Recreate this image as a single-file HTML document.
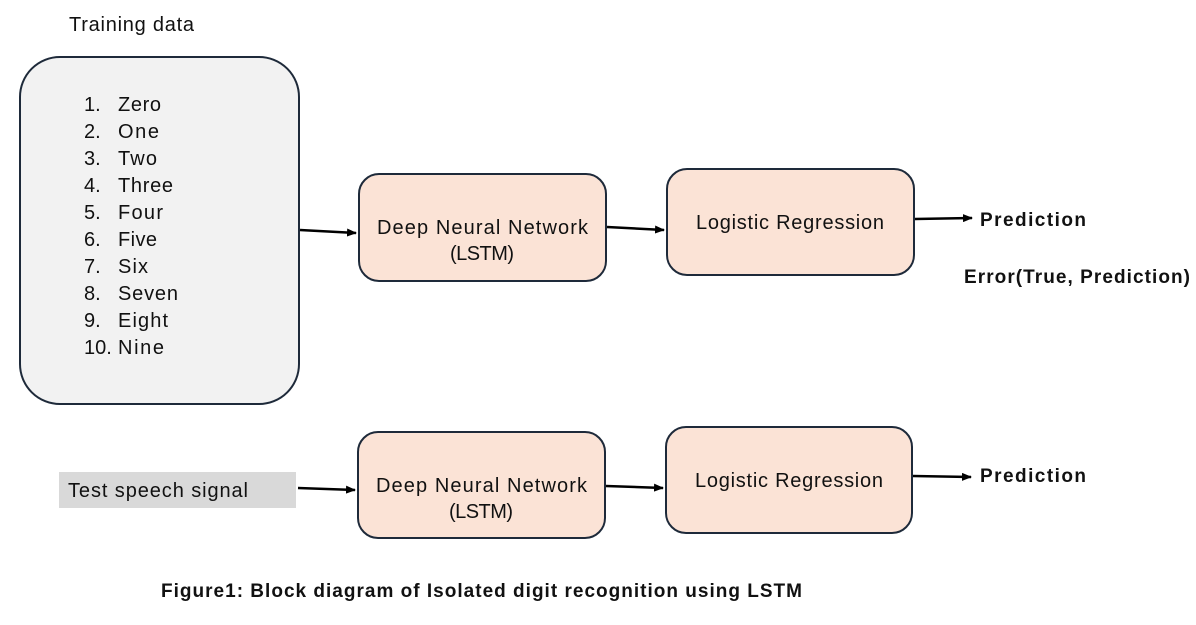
<!DOCTYPE html>
<html><head><meta charset="utf-8"><style>body{margin:0;background:#fff}svg{display:block}text{font-family:"Liberation Sans",sans-serif;fill:#111}</style></head><body>
<svg width="1196" height="625" viewBox="0 0 1196 625" xmlns="http://www.w3.org/2000/svg">
<defs><marker id="a" markerWidth="10" markerHeight="8" refX="9" refY="4" orient="auto" markerUnits="userSpaceOnUse"><path d="M0,0 L10,4 L0,8 Z" fill="#000"/></marker></defs>
<text x="69" y="31" font-size="20" textLength="125">Training data</text>
<rect x="20" y="57" width="279" height="347" rx="40" fill="#f2f2f2" stroke="#1e2a3a" stroke-width="2"/>
<g font-size="20">
<text x="84" y="111">1.</text><text x="118" y="111" textLength="43">Zero</text>
<text x="84" y="138">2.</text><text x="118" y="138" textLength="41">One</text>
<text x="84" y="165">3.</text><text x="118" y="165" textLength="39">Two</text>
<text x="84" y="192">4.</text><text x="118" y="192" textLength="55">Three</text>
<text x="84" y="219">5.</text><text x="118" y="219" textLength="45">Four</text>
<text x="84" y="246">6.</text><text x="118" y="246" textLength="39">Five</text>
<text x="84" y="273">7.</text><text x="118" y="273" textLength="30">Six</text>
<text x="84" y="300">8.</text><text x="118" y="300" textLength="60">Seven</text>
<text x="84" y="327">9.</text><text x="118" y="327" textLength="50">Eight</text>
<text x="84" y="354">10.</text><text x="118" y="354" textLength="46">Nine</text>
</g>
<g fill="#fbe3d6" stroke="#1e2a3a" stroke-width="2">
<rect x="359" y="174" width="247" height="107" rx="20"/>
<rect x="667" y="169" width="247" height="106" rx="20"/>
<rect x="358" y="432" width="247" height="106" rx="20"/>
<rect x="666" y="427" width="246" height="106" rx="20"/>
</g>
<rect x="59" y="472" width="237" height="36" fill="#d9d9d9"/>
<text x="68" y="497" font-size="20" textLength="180">Test speech signal</text>
<g font-size="20">
<text x="377" y="234" textLength="211">Deep Neural Network</text><text x="450" y="260" textLength="64">(LSTM)</text>
<text x="696" y="229" textLength="188">Logistic Regression</text>
<text x="376" y="492" textLength="211">Deep Neural Network</text><text x="449" y="518" textLength="64">(LSTM)</text>
<text x="695" y="487" textLength="188">Logistic Regression</text>
</g>
<g stroke="#000" stroke-width="2.5" marker-end="url(#a)">
<line x1="300" y1="230" x2="356" y2="233"/>
<line x1="607" y1="227" x2="664" y2="230"/>
<line x1="915" y1="219" x2="972" y2="218"/>
<line x1="298" y1="488" x2="355" y2="490"/>
<line x1="606" y1="486" x2="663" y2="488"/>
<line x1="913" y1="476" x2="971" y2="477"/>
</g>
<g font-size="19" font-weight="bold">
<text x="980" y="226" textLength="106">Prediction</text>
<text x="964" y="283" textLength="226">Error(True, Prediction)</text>
<text x="980" y="482" textLength="106">Prediction</text>
<text x="161" y="597" textLength="641">Figure1: Block diagram of Isolated digit recognition using LSTM</text>
</g>
</svg>
</body></html>
